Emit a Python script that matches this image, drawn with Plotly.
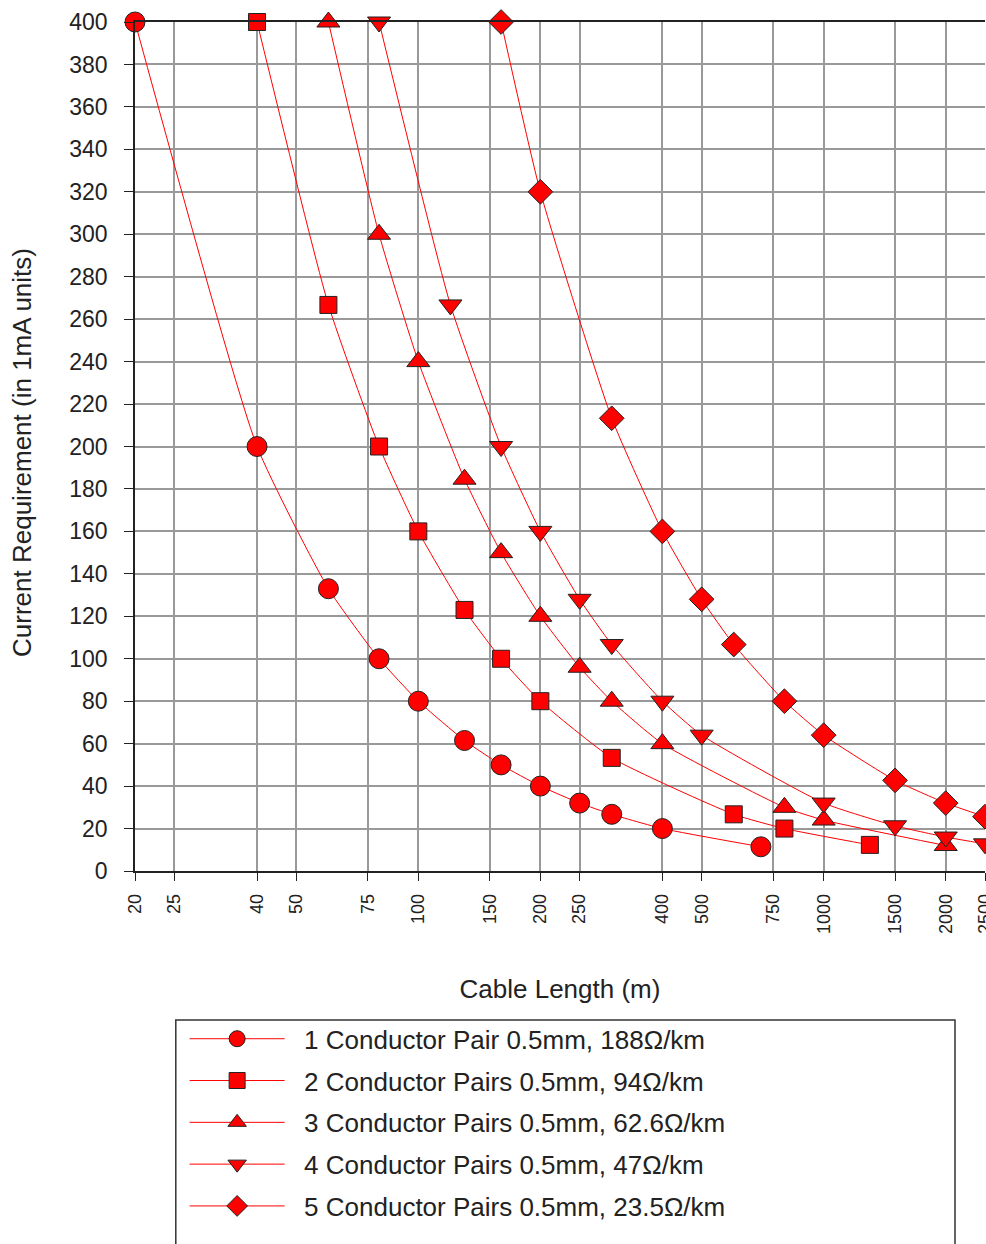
import math
import plotly.graph_objs as go

# cable length (m) vs current requirement (mA)
len_1 = [20, 40, 60, 80, 100, 130, 160, 200, 250, 300, 400, 700]
cur_1 = [400, 200, 133, 100, 80, 61.5, 50, 40, 32, 26.7, 20, 11.4]

len_2 = [40, 60, 80, 100, 130, 160, 200, 300, 600, 800, 1300]
cur_2 = [400, 266.7, 200, 160, 123, 100, 80, 53.3, 26.7, 20, 12.3]

len_3 = [60, 80, 100, 130, 160, 200, 250, 300, 400, 800, 1000, 2000]
cur_3 = [400, 300, 240, 184.6, 150, 120, 96, 80, 60, 30, 24, 12]

len_4 = [80, 120, 160, 200, 250, 300, 400, 500, 1000, 1500, 2000, 2500]
cur_4 = [400, 266.7, 200, 160, 128, 106.7, 80, 64, 32, 21.3, 16, 12.8]

len_5 = [160, 200, 300, 400, 500, 600, 800, 1000, 1500, 2000, 2500]
cur_5 = [400, 320, 213.3, 160, 128, 106.7, 80, 64, 42.7, 32, 25.6]

names = ['1 Conductor Pair 0.5mm, 188\u03a9/km',
         '2 Conductor Pairs 0.5mm, 94\u03a9/km',
         '3 Conductor Pairs 0.5mm, 62.6\u03a9/km',
         '4 Conductor Pairs 0.5mm, 47\u03a9/km',
         '5 Conductor Pairs 0.5mm, 23.5\u03a9/km']

x_ticks = [20, 25, 40, 50, 75, 100, 150, 200, 250, 400, 500, 750, 1000, 1500, 2000, 2500]

symbols = ['circle', 'square', 'triangle-up', 'triangle-down', 'diamond']
sizes = [20, 17, 20, 20, 19]

fig = go.Figure()
series = [(len_1, cur_1), (len_2, cur_2), (len_3, cur_3), (len_4, cur_4), (len_5, cur_5)]
for i, (x, y) in enumerate(series):
    fig.add_trace(go.Scatter(
        x=x, y=y, name='\u00a0\u00a0' + names[i], mode='lines+markers',
        legendgroup='g%d' % i,
        line=dict(color='#ff0000', width=1, shape='spline', smoothing=0.5),
        marker=dict(symbol=symbols[i], size=sizes[i], color='#ff0000',
                    line=dict(color='#222222', width=1)),
        cliponaxis=False,
    ))

font = 'Liberation Sans, Arial, sans-serif'

fig.update_layout(
    width=986, height=1244,
    margin=dict(l=135, r=1, t=22, b=373),
    paper_bgcolor='white', plot_bgcolor='white',
    font=dict(family=font, color='#222222'),
    xaxis=dict(
        type='log', range=[math.log10(20) - 1e-6, math.log10(2500) + 1e-6],
        tickvals=x_ticks, ticktext=[str(v) for v in x_ticks],
        tickangle=-90, tickfont=dict(size=18), ticklabelstandoff=6,
        ticklabeloverflow='allow',
        showgrid=True, gridcolor='#999999', gridwidth=1.5,
        showline=True, linecolor='#222222', linewidth=1.5, mirror=True,
        ticks='outside', ticklen=8, tickcolor='#222222',
        zeroline=False, automargin=False,
        title=dict(text='Cable Length (m)', font=dict(size=26), standoff=47),
    ),
    yaxis=dict(
        range=[0, 400], dtick=20, tickfont=dict(size=23), ticklabelstandoff=12,
        showgrid=True, gridcolor='#999999', gridwidth=1.5,
        showline=True, linecolor='#222222', linewidth=1.5,
        ticks='outside', ticklen=9, tickcolor='#222222',
        zeroline=False, automargin=False,
    ),
    annotations=[dict(text='Current Requirement (in 1mA units)', textangle=-90,
                      xref='paper', yref='paper', x=-0.133, y=0.4935,
                      xanchor='center', yanchor='middle', showarrow=False,
                      font=dict(size=26, color='#222222'))],
    legend=dict(
        x=0.0584, y=-0.17, xanchor='left', yanchor='top',
        font=dict(size=26), itemwidth=95, tracegroupgap=5,
        bgcolor='rgba(0,0,0,0)',
    ),
    shapes=[dict(type='rect', xref='paper', yref='paper',
                 x0=0.048, x1=0.9647, y0=-0.45, y1=-0.1755,
                 line=dict(color='#333333', width=1.5))],
)

fig.write_html('out.html', config={'displayModeBar': False},
               post_script="document.body.style.margin='0';document.body.style.overflow='hidden';")
